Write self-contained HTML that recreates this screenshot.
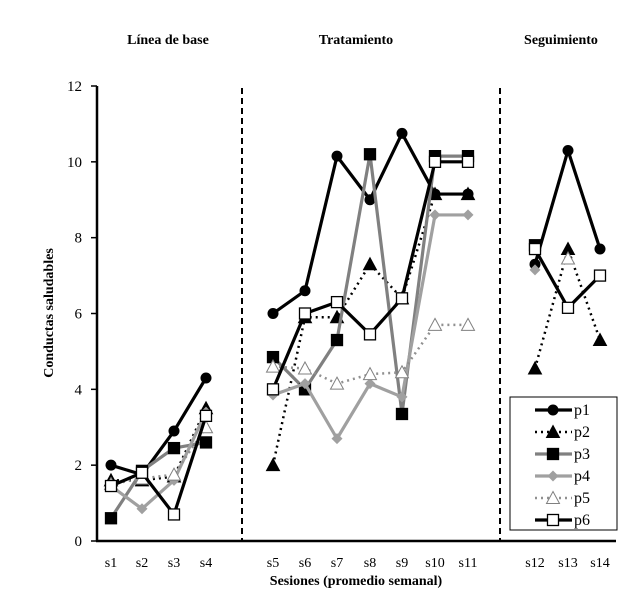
<!DOCTYPE html>
<html><head><meta charset="utf-8"><style>
body{margin:0;background:#fff;}
svg{display:block;font-family:"Liberation Serif",serif;}
</style></head><body>
<svg id="chart" width="624" height="599">
<g id="axes"></g><g id="series"></g><g id="legend"></g>
</svg>
<script>
const categories=["s1","s2","s3","s4","s5","s6","s7","s8","s9","s10","s11","s12","s13","s14"];
const phases=[[0,3],[4,10],[11,13]];
const phaseTitles=["Línea de base","Tratamiento","Seguimiento"];
const yTicks=[0,2,4,6,8,10,12];
const p1=[2.0,1.75,2.9,4.3, 6.0,6.6,10.15,9.0,10.75,9.15,9.15, 7.3,10.3,7.7];
const p2=[1.6,1.6,1.7,3.5, 2.0,5.9,5.9,7.3,6.4,9.15,9.15, 4.55,7.7,5.3];
const p3=[0.6,1.85,2.45,2.6, 4.85,4.0,5.3,10.2,3.35,10.15,10.15, 7.8,null,null];
const p4=[1.45,0.85,1.6,3.4, 3.85,4.15,2.7,4.15,3.8,8.6,8.6, 7.15,null,null];
const p5=[1.5,1.65,1.75,3.0, 4.6,4.55,4.15,4.4,4.45,5.7,5.7, null,7.45,null];
const p6=[1.45,1.8,0.7,3.3, 4.0,6.0,6.3,5.45,6.4,10.0,10.0, 7.7,6.15,7.0];
const seriesNames=["p1","p2","p3","p4","p5","p6"];
const seriesData=[p1,p2,p3,p4,p5,p6];
const styles=[
 {c:"#000",dash:"",m:"circle",fill:"#000"},
 {c:"#000",dash:"2,4",m:"tri",fill:"#000"},
 {c:"#808080",dash:"",m:"square",fill:"#000"},
 {c:"#a0a0a0",dash:"",m:"diamond",fill:"#a0a0a0"},
 {c:"#909090",dash:"2,4",m:"tri",fill:"#fff"},
 {c:"#000",dash:"",m:"square",fill:"#fff"}];
const xPos=[111,142,174,206,273,305,337,370,402,435,468,535,568,600];
function x(i){return xPos[i];}
function y(v){return 541-v*(455/12);}
const NS="http://www.w3.org/2000/svg";
function mk(t,a,p){const e=document.createElementNS(NS,t);for(const k in a)e.setAttribute(k,a[k]);p.appendChild(e);return e;}
const ax=document.getElementById('axes');
let e=mk('line',{x1:97,y1:86,x2:97,y2:541,stroke:'#000','stroke-width':2.5},ax);


e=mk('line',{x1:96,y1:541,x2:616,y2:541,stroke:'#000','stroke-width':2.5},ax);


yTicks.forEach(v=>{
 mk('line',{x1:91,y1:y(v),x2:97,y2:y(v),stroke:'#000','stroke-width':1.5},ax);
 const t=mk('text',{x:82,y:y(v)+5,'text-anchor':'end','font-size':15},ax);t.textContent=v;
 
 
});
categories.forEach((c,i)=>{
 const t=mk('text',{x:x(i),y:567,'text-anchor':'middle','font-size':14},ax);t.textContent=c;
 
 
});
[242,500].forEach(xx=>{
 const l=mk('line',{x1:xx,y1:88,x2:xx,y2:541,stroke:'#000','stroke-width':2,'stroke-dasharray':'6,4'},ax);
 
 
});
[[168,"Línea de base"],[356,"Tratamiento"],[561,"Seguimiento"]].forEach((p,k)=>{
 const t=mk('text',{x:p[0],y:44,'text-anchor':'middle','font-size':14,'font-weight':'bold'},ax);t.textContent=phaseTitles[k];
 
 
});
e=mk('text',{x:356,y:585,'text-anchor':'middle','font-size':14,'font-weight':'bold'},ax);e.textContent="Sesiones (promedio semanal)";


e=mk('text',{x:0,y:0,'text-anchor':'middle','font-size':14,'font-weight':'bold',transform:'translate(53,313) rotate(-90)'},ax);e.textContent="Conductas saludables";


function marker(s,cx,cy,g){
 const sw=1.3;
 if(s.m==='circle')return mk('circle',{cx:cx,cy:cy,r:5.5,fill:s.fill},g);
 if(s.m==='square')return mk('rect',{x:cx-5.5,y:cy-5.5,width:11,height:11,fill:s.fill,stroke:'#000','stroke-width':sw},g);
 if(s.m==='diamond')return mk('polygon',{points:`${cx},${cy-5.5} ${cx+5.5},${cy} ${cx},${cy+5.5} ${cx-5.5},${cy}`,fill:s.fill},g);
 return mk('polygon',{points:`${cx},${cy-6.5} ${cx+6.5},${cy+5.5} ${cx-6.5},${cy+5.5}`,fill:s.fill,stroke:s.fill==='#fff'?'#808080':'#000','stroke-width':1},g);
}
const sg=document.getElementById('series');
seriesData.forEach((d,si)=>{
 const s=styles[si];
 const g=mk('g',{},sg);
 
 
 phases.forEach(ph=>{
  let pts=[];
  for(let i=ph[0];i<=ph[1];i++){if(d[i]!=null)pts.push(x(i)+','+y(d[i]));}
  if(pts.length>1){const l=mk('polyline',{points:pts.join(' '),fill:'none',stroke:s.c,'stroke-width':s.dash?2.5:3.2,'stroke-dasharray':s.dash,'stroke-linejoin':'round'},g);
   
   }
 });
 d.forEach((v,i)=>{if(v==null)return;
  const m=marker(s,x(i),y(v),g);
  
  
 });
});
const lg=document.getElementById('legend');
e=mk('rect',{x:510,y:397,width:107,height:133,fill:'#fff',stroke:'#000','stroke-width':1},lg);


seriesNames.forEach((n,si)=>{
 const s=styles[si];const yy=410+si*22;
 const g=mk('g',{},lg);
 
 
 mk('line',{x1:535,y1:yy,x2:572,y2:yy,stroke:s.c,'stroke-width':s.dash?2.5:3.2,'stroke-dasharray':s.dash},g);
 marker(s,553,yy,g);
 const t=mk('text',{x:574,y:yy+5,'font-size':16},g);t.textContent=n;
});
</script>
</body></html>
